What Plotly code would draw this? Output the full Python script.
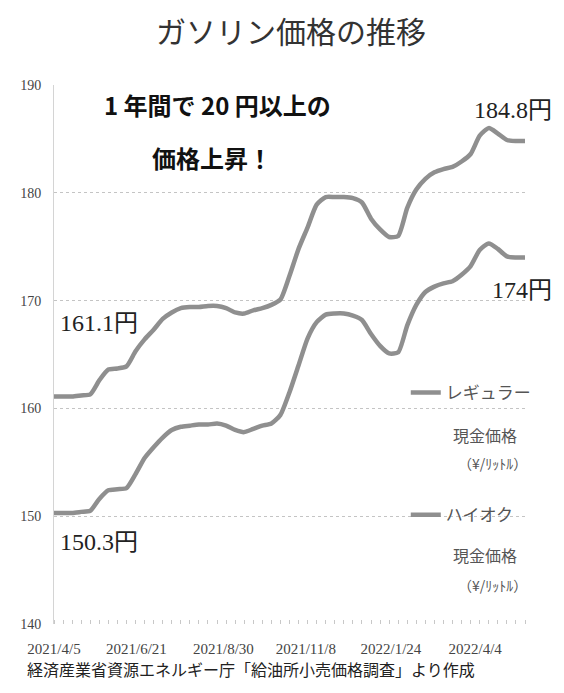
import plotly.graph_objects as go
import pandas as pd

# ---- data ----
weeks = pd.date_range("2021-04-05", "2022-04-04", freq="7D")
week_labels = [f"{d.year}/{d.month}/{d.day}" for d in weeks]

high_octane = [161.1, 161.1, 161.1, 161.2, 161.3, 162.6, 163.6, 163.7, 163.9, 165.3,
               166.4, 167.3, 168.3, 168.9, 169.3, 169.4, 169.4, 169.5, 169.5, 169.3,
               168.9, 168.8, 169.1, 169.3, 169.6, 170.1, 172.3, 174.8, 176.8, 178.9,
               179.6, 179.6, 179.6, 179.5, 179.1, 177.6, 176.6, 175.9, 176.0, 178.6,
               180.3, 181.3, 181.9, 182.2, 182.4, 182.9, 183.6, 185.3, 186.0, 185.5,
               184.9, 184.8, 184.8]

regular = [150.3, 150.3, 150.3, 150.4, 150.5, 151.6, 152.4, 152.5, 152.6, 153.9,
           155.4, 156.4, 157.3, 158.0, 158.3, 158.4, 158.5, 158.5, 158.6, 158.4,
           158.0, 157.8, 158.1, 158.4, 158.6, 159.4, 161.5, 164.0, 166.5, 168.0,
           168.7, 168.8, 168.8, 168.6, 168.2, 166.9, 165.8, 165.1, 165.2, 167.7,
           169.6, 170.8, 171.3, 171.6, 171.8, 172.4, 173.2, 174.7, 175.3, 174.8,
           174.1, 174.0, 174.0]

tick_text = ["2021/4/5", "2021/6/21", "2021/8/30", "2021/11/8", "2022/1/24", "2022/4/4"]
tick_pos = [0, 9.1, 18.7, 27.8, 37.2, 46.5]
y_ticks = [140, 150, 160, 170, 180, 190]

# ---- geometry helpers (screen pixel -> paper); page body has an 8px margin ----
OFF = 8
W, H = 564 - 2 * OFF, 693 - 2 * OFF
L, T = 43 - OFF, 85 - OFF
R = W - (525 - OFF)
B = H - (624 - OFF)
pw, ph = W - L - R, H - T - B


def px(xp):
    return (xp - OFF - L) / pw


def py(yp):
    return (H - B - (yp - OFF)) / ph


x = list(range(len(week_labels)))
LINE = "#8f8f8f"
JP = "Noto Sans CJK JP"
SERIF = "Liberation Serif, Noto Sans CJK JP"

fig = go.Figure()
fig.add_trace(go.Scatter(
    x=x, y=regular, name="レギュラー", legendrank=1, legendgroup="r",
    mode="lines", line=dict(color=LINE, width=4.5, shape="spline", smoothing=0.6),
    customdata=week_labels, hovertemplate="%{customdata}: %{y}円<extra></extra>"))
fig.add_trace(go.Scatter(
    x=x, y=high_octane, name="ハイオク", legendrank=2, legendgroup="h",
    mode="lines", line=dict(color=LINE, width=4.5, shape="spline", smoothing=0.6),
    customdata=week_labels, hovertemplate="%{customdata}: %{y}円<extra></extra>"))

ann = []
# value labels
lab_font = dict(family=SERIF, size=24, color="#222")
ann.append(dict(x=px(47), y=py(323), xref="paper", yref="paper", text=f"{high_octane[0]}円",
                xanchor="left", yanchor="middle", showarrow=False, font=lab_font))
ann.append(dict(x=px(47), y=py(542), xref="paper", yref="paper", text=f"{regular[0]}円",
                xanchor="left", yanchor="middle", showarrow=False, font=lab_font))
ann.append(dict(x=px(555), y=py(110), xref="paper", yref="paper", text=f"{high_octane[-1]}円",
                xanchor="right", yanchor="middle", showarrow=False, font=lab_font))
ann.append(dict(x=px(555), y=py(290), xref="paper", yref="paper", text=f"{regular[-1]:g}円",
                xanchor="right", yanchor="middle", showarrow=False, font=lab_font))

# headline
head_font = dict(family=JP, size=24, color="#111", weight=900)
ann.append(dict(x=px(210), y=py(105), xref="paper", yref="paper",
                text="<b>1 年間で 20 円以上の</b>", showarrow=False,
                xanchor="center", yanchor="middle", font=head_font))
ann.append(dict(x=px(205), y=py(157), xref="paper", yref="paper",
                text="<b>価格上昇！</b>", showarrow=False,
                xanchor="center", yanchor="middle", font=head_font))

# legend sub-lines
sub_font = dict(family=JP, size=16, color="#555")
sub_font2 = dict(family=JP, size=14, color="#555")
for yy1, yy2 in [(435, 463), (555, 585)]:
    ann.append(dict(x=px(484), y=py(yy1), xref="paper", yref="paper", text="現金価格",
                    showarrow=False, xanchor="center", yanchor="middle", font=sub_font))
    ann.append(dict(x=px(492), y=py(yy2), xref="paper", yref="paper", text="（¥/ﾘｯﾄﾙ）",
                    showarrow=False, xanchor="center", yanchor="middle", font=sub_font2))

# title and source
ann.append(dict(x=px(286), y=py(30), xref="paper", yref="paper", text="ガソリン価格の推移",
                showarrow=False, xanchor="center", yanchor="middle",
                font=dict(family=JP, size=30, color="#333")))
ann.append(dict(x=px(13), y=py(683), xref="paper", yref="paper",
                text="経済産業省資源エネルギー庁「給油所小売価格調査」より作成",
                showarrow=False, xanchor="left", yanchor="bottom",
                font=dict(family=JP, size=16, color="#222")))

fig.update_layout(
    width=W, height=H,
    margin=dict(l=L, r=R, t=T, b=B, pad=0),
    paper_bgcolor="white", plot_bgcolor="white",
    showlegend=True,
    legend=dict(x=px(403), y=py(375), xanchor="left", yanchor="top",
                font=dict(family=JP, size=17, color="#555"),
                bgcolor="rgba(0,0,0,0)", tracegroupgap=97, valign="top",
                itemwidth=30),
    annotations=ann,
    hovermode="closest",
)
fig.update_xaxes(
    range=[0, len(x) - 1], tickmode="array", tickvals=tick_pos, ticktext=tick_text,
    showgrid=False, zeroline=False, showline=False, ticks="",
    tickfont=dict(family=SERIF, size=15, color="#444"), ticklabelstandoff=14,
    minor=dict(tick0=0, dtick=1, ticks="inside", ticklen=4, tickcolor="#c8c8c8",
               tickwidth=1, showgrid=False),
)
fig.update_yaxes(
    range=[140, 190], tickmode="array", tickvals=y_ticks,
    showgrid=True, gridcolor="#c4c4c4", griddash="dot", gridwidth=1,
    zeroline=False, showline=True, linecolor="#d4d4d4", linewidth=1, ticks="",
    tickfont=dict(family=SERIF, size=14, color="#444"), ticklabelstandoff=9,
)

fig.write_html("out.html")
